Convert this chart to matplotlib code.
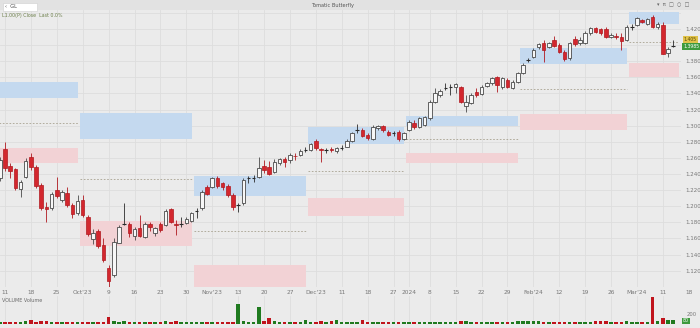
import matplotlib
matplotlib.use("Agg")
import matplotlib.pyplot as plt
from matplotlib.patches import Rectangle
import numpy as np

# daily bars from Fri Sep 8 2023 to Wed Mar 13 2024 (first bar is cut by the left edge)
opens = [1.2351, 1.2711, 1.2500, 1.2462, 1.2210, 1.2367, 1.2608, 1.2484, 1.2264, 1.1991,
         1.1975, 1.2202, 1.2078, 1.2161, 1.2016, 1.1912, 1.2078, 1.1863, 1.1590, 1.1693,
         1.1519, 1.1237, 1.1147, 1.1548, 1.1786, 1.1776, 1.1631, 1.1726, 1.1622, 1.1776,
         1.1672, 1.1776, 1.1767, 1.1962, 1.1776, 1.1782, 1.1789, 1.1821, 1.1941, 1.1975,
         1.2243, 1.2243, 1.2347, 1.2285, 1.2251, 1.2140, 1.2015, 1.2037, 1.2345, 1.2357,
         1.2367, 1.2500, 1.2491, 1.2429, 1.2541, 1.2583, 1.2574, 1.2630, 1.2636, 1.2704,
         1.2698, 1.2814, 1.2713, 1.2698, 1.2713, 1.2690, 1.2729, 1.2739, 1.2814, 1.2946,
         1.2946, 1.2884, 1.2831, 1.2968, 1.2996, 1.2925, 1.2905, 1.2925, 1.2831, 1.2946,
         1.3037, 1.2987, 1.3008, 1.3092, 1.3298, 1.3381, 1.3474, 1.3486, 1.3484, 1.3476,
         1.3244, 1.3285, 1.3422, 1.3393, 1.3493, 1.3526, 1.3601, 1.3484, 1.3567, 1.3464,
         1.3546, 1.3658, 1.3815, 1.3856, 1.3973, 1.4030, 1.3973, 1.4064, 1.4001, 1.3918,
         1.3836, 1.4072, 1.4023, 1.4030, 1.4147, 1.4209, 1.4194, 1.4194, 1.4097, 1.4119,
         1.4104, 1.4064, 1.4225, 1.4250, 1.4306, 1.4262, 1.4345, 1.4221, 1.4250, 1.3902,
         1.3985]
highs = [1.2611, 1.2801, 1.2537, 1.2475, 1.2326, 1.2599, 1.2657, 1.2512, 1.2289, 1.2057,
         1.2177, 1.2363, 1.2202, 1.2243, 1.2037, 1.2140, 1.2140, 1.1891, 1.1714, 1.1718,
         1.1602, 1.1271, 1.1602, 1.1767, 1.2044, 1.1808, 1.1746, 1.1891, 1.1808, 1.1808,
         1.1742, 1.1808, 1.1962, 1.1975, 1.1829, 1.1870, 1.1863, 1.1932, 1.1975, 1.2202,
         1.2264, 1.2367, 1.2375, 1.2305, 1.2276, 1.2165, 1.2044, 1.2347, 1.2375, 1.2388,
         1.2615, 1.2574, 1.2565, 1.2583, 1.2595, 1.2608, 1.2657, 1.2657, 1.2707, 1.2732,
         1.2789, 1.2831, 1.2719, 1.2719, 1.2732, 1.2739, 1.2760, 1.2831, 1.2925, 1.3021,
         1.2968, 1.2906, 1.3008, 1.3008, 1.3008, 1.2946, 1.2934, 1.2946, 1.2925, 1.3071,
         1.3071, 1.3112, 1.3120, 1.3319, 1.3464, 1.3452, 1.3526, 1.3517, 1.3526, 1.3493,
         1.3381, 1.3402, 1.3464, 1.3505, 1.3546, 1.3608, 1.3617, 1.3604, 1.3588, 1.3567,
         1.3670, 1.3774, 1.3836, 1.3961, 1.4030, 1.4064, 1.4042, 1.4113, 1.4023, 1.3939,
         1.4042, 1.4113, 1.4105, 1.4175, 1.4225, 1.4229, 1.4212, 1.4219, 1.4147, 1.4154,
         1.4147, 1.4244, 1.4262, 1.4349, 1.4324, 1.4337, 1.4374, 1.4287, 1.4291, 1.3980,
         1.4064]
lows = [1.2313, 1.2438, 1.2351, 1.2202, 1.2119, 1.2351, 1.2450, 1.2227, 1.1954, 1.1808,
        1.1954, 1.2102, 1.2053, 1.1991, 1.1850, 1.1891, 1.1867, 1.1631, 1.1532, 1.1482,
        1.1312, 1.1001, 1.1122, 1.1540, 1.1767, 1.1622, 1.1581, 1.1622, 1.1602, 1.1697,
        1.1634, 1.1684, 1.1755, 1.1789, 1.1643, 1.1739, 1.1776, 1.1808, 1.1850, 1.1954,
        1.2140, 1.2223, 1.2223, 1.2202, 1.2119, 1.1954, 1.1932, 1.2016, 1.2285, 1.2305,
        1.2347, 1.2409, 1.2388, 1.2409, 1.2512, 1.2491, 1.2541, 1.2574, 1.2624, 1.2677,
        1.2690, 1.2698, 1.2553, 1.2665, 1.2677, 1.2665, 1.2698, 1.2732, 1.2801, 1.2913,
        1.2856, 1.2822, 1.2822, 1.2946, 1.2925, 1.2872, 1.2872, 1.2814, 1.2822, 1.2938,
        1.2955, 1.2971, 1.2996, 1.3071, 1.3278, 1.3360, 1.3443, 1.3381, 1.3402, 1.3285,
        1.3174, 1.3269, 1.3360, 1.3381, 1.3476, 1.3505, 1.3422, 1.3452, 1.3464, 1.3452,
        1.3530, 1.3642, 1.3790, 1.3836, 1.3948, 1.3794, 1.3961, 1.3973, 1.3898, 1.3807,
        1.3815, 1.3989, 1.4001, 1.4014, 1.4126, 1.4150, 1.4126, 1.4085, 1.4085, 1.4072,
        1.3939, 1.4051, 1.4188, 1.4237, 1.4275, 1.4250, 1.4212, 1.4200, 1.3884, 1.3856,
        1.3980]
closes = [1.2574, 1.2475, 1.2441, 1.2227, 1.2305, 1.2565, 1.2484, 1.2251, 1.1975, 1.1966,
          1.2152, 1.2127, 1.2181, 1.2016, 1.1904, 1.2069, 1.1891, 1.1652, 1.1672, 1.1507,
          1.1333, 1.1076, 1.1560, 1.1746, 1.1786, 1.1664, 1.1714, 1.1631, 1.1776, 1.1739,
          1.1726, 1.1705, 1.1945, 1.1808, 1.1764, 1.1782, 1.1838, 1.1913, 1.1941, 1.2181,
          1.2152, 1.2347, 1.2251, 1.2243, 1.2140, 1.1987, 1.2015, 1.2326, 1.2345, 1.2357,
          1.2471, 1.2450, 1.2400, 1.2553, 1.2583, 1.2553, 1.2636, 1.2618, 1.2686, 1.2704,
          1.2773, 1.2719, 1.2701, 1.2698, 1.2701, 1.2719, 1.2729, 1.2814, 1.2906, 1.2946,
          1.2872, 1.2843, 1.2987, 1.2996, 1.2946, 1.2884, 1.2905, 1.2831, 1.2913, 1.3050,
          1.2980, 1.3092, 1.3104, 1.3298, 1.3402, 1.3431, 1.3474, 1.3486, 1.3514, 1.3298,
          1.3298, 1.3381, 1.3381, 1.3484, 1.3526, 1.3588, 1.3505, 1.3588, 1.3484, 1.3546,
          1.3650, 1.3753, 1.3815, 1.3939, 1.4014, 1.3939, 1.4023, 1.3989, 1.3918, 1.3824,
          1.4030, 1.4014, 1.4064, 1.4154, 1.4209, 1.4167, 1.4147, 1.4104, 1.4126, 1.4107,
          1.4051, 1.4225, 1.4225, 1.4333, 1.4293, 1.4320, 1.4229, 1.4262, 1.3890, 1.3952,
          1.3985]
volumes = [40, 40, 40, 40, 45, 67, 80, 45, 60, 53,
           45, 50, 45, 40, 40, 40, 40, 40, 40, 40,
           50, 147, 53, 45, 53, 40, 40, 40, 40, 45,
           40, 50, 67, 45, 60, 40, 40, 40, 40, 40,
           40, 40, 40, 40, 40, 40, 400, 67, 40, 45,
           347, 67, 120, 53, 40, 40, 40, 40, 40, 80,
           40, 40, 53, 40, 53, 80, 40, 40, 40, 45,
           80, 45, 40, 40, 40, 40, 40, 40, 40, 45,
           40, 50, 45, 50, 45, 40, 45, 40, 45, 60,
           67, 45, 50, 45, 40, 40, 45, 40, 40, 40,
           67, 67, 67, 67, 67, 45, 40, 40, 40, 45,
           40, 45, 40, 40, 40, 60, 55, 53, 40, 40,
           45, 60, 40, 45, 40, 45, 533, 53, 120, 80,
           80]

# weekly axis labels (bar number counted from Mon Sep 11)
tick_pos = [0, 5, 10, 15, 20, 25, 30, 35, 40, 45, 50, 55, 60, 65, 70, 75, 78,
            82, 87, 92, 97, 102, 107, 112, 117, 122, 127]
tick_labels = ["11", "18", "25", "Oct'23", "9", "16", "23", "30", "Nov'23", "13", "20",
               "27", "Dec'23", "11", "18", "27", "2024", "8", "15", "22", "29",
               "Feb'24", "12", "19", "26", "Mar'24", "11"]
price_ticks = [1.12, 1.14, 1.16, 1.18, 1.20, 1.22, 1.24, 1.26, 1.28, 1.30,
               1.32, 1.34, 1.36, 1.38, 1.42]
grid_prices = [1.12, 1.14, 1.16, 1.18, 1.20, 1.22, 1.24, 1.26, 1.28, 1.30,
               1.32, 1.34, 1.36, 1.38, 1.40, 1.42, 1.44]

# monthly zones: first bar, last bar, blue band, mid line, red band
zone_first = [-1, 15, 37, 59, 78, 100, 121]
zone_last = [14, 36, 58, 77, 99, 120, 130]
blue_top = [1.3542, 1.3161, 1.2376, 1.2980, 1.3120, 1.3961, 1.4411]
blue_bot = [1.3344, 1.2835, 1.2127, 1.2773, 1.2996, 1.3762, 1.4262]
mid_line = [1.3037, 1.2338, 1.1693, 1.2438, 1.2835, 1.3455, 1.4039]
red_top = [1.2723, 1.1821, 1.1271, 1.2106, 1.2661, 1.3145, 1.3778]
red_bot = [1.2537, 1.1507, 1.0998, 1.1883, 1.2537, 1.2946, 1.3604]

BG = '#ebebeb'
GRID = '#dddddd'
RED = '#d3272e'
GREEN = '#1f7a1f'

fig = plt.figure(figsize=(7, 3.28), dpi=100, facecolor=BG)
ax = fig.add_axes([0, 1 - 287 / 328, 681 / 700, 277 / 328], facecolor=BG)
axv = fig.add_axes([0, 4 / 328, 681 / 700, 28 / 328], facecolor=BG, sharex=ax)

x = np.arange(len(opens)) - 1
o = np.array(opens)
h = np.array(highs)
l = np.array(lows)
c = np.array(closes)

# horizontal grid (the 1.40 line has no label, the price tags sit there)
for gp in grid_prices:
    ax.axhline(gp, color=GRID, lw=0.6, zorder=0)

# zones
for f, la, bt, bb, m, rt, rb in zip(zone_first, zone_last, blue_top, blue_bot,
                                     mid_line, red_top, red_bot):
    x0, x1 = f - 0.5, la + 0.1
    ax.add_patch(Rectangle((x0, bb), x1 - x0, bt - bb, facecolor='#c4d9ef',
                           edgecolor='none', zorder=1))
    ax.add_patch(Rectangle((x0, rb), x1 - x0, rt - rb, facecolor='#f2d2d5',
                           edgecolor='none', zorder=1))
    ax.plot([x0, x1], [m, m], color='#a8a290', lw=0.6, ls=(0, (2, 2)), zorder=1)

# candles
w = 0.68
for xi, oi, hi, li, ci in zip(x, o, h, l, c):
    if ci == oi:
        col = '#2b2b2b'
        ax.vlines(xi, li, hi, color=col, lw=0.6, zorder=3)
        ax.hlines(ci, xi - w / 2, xi + w / 2, color=col, lw=0.8, zorder=3)
    elif ci > oi:
        ax.vlines(xi, li, hi, color='#4a4a4a', lw=0.6, zorder=2)
        ax.add_patch(Rectangle((xi - w / 2, oi), w, ci - oi, facecolor='#f7f7f7',
                               edgecolor='#4a4a4a', lw=0.6, zorder=3))
    else:
        ax.vlines(xi, li, hi, color='#b0181f', lw=0.6, zorder=2)
        ax.add_patch(Rectangle((xi - w / 2, ci), w, oi - ci, facecolor=RED,
                               edgecolor='#b0181f', lw=0.5, zorder=3))

ax.set_xlim(-0.965, 130.5)
ax.set_ylim(1.4436 - 277 / 805.7, 1.4436)
ax.set_yticks(price_ticks)
ax.set_yticklabels(['%.3f' % p for p in price_ticks])
ax.yaxis.tick_right()
ax.tick_params(axis='y', length=0, labelsize=4.0, labelcolor='#777777', pad=3)
ax.set_xticks(tick_pos)
ax.set_xticklabels(tick_labels)
ax.tick_params(axis='x', length=0, labelsize=4.2, labelcolor='#777777', pad=2.5)
ax.text(132, -0.012, "18", transform=ax.get_xaxis_transform(), ha='center',
        va='top', fontsize=4.2, color='#777777', clip_on=False)
ax.grid(True, axis='x', color=GRID, lw=0.6, zorder=0)
ax.set_axisbelow(True)
for s in ax.spines.values():
    s.set_visible(False)

# price tags on the right edge
ax.text(1.004, 1.4068, "1.405", transform=ax.get_yaxis_transform(), fontsize=3.3,
        color='#5a4a00', va='center', ha='left', clip_on=False,
        bbox=dict(boxstyle='square,pad=0.2', fc='#e0c24a', ec='none'))
ax.text(1.003, c[-1], "%.4f" % c[-1], transform=ax.get_yaxis_transform(), fontsize=3.3,
        color='white', va='center', ha='left', clip_on=False,
        bbox=dict(boxstyle='square,pad=0.2', fc='#3d9a3d', ec='none'))

# volume
vcol = [GREEN if ci >= oi else '#c0141c' for oi, ci in zip(o, c)]
axv.bar(x, volumes, width=0.68, color=vcol, zorder=2)
axv.set_ylim(0, 560)
axv.set_yticks([200])
axv.set_yticklabels(["200"])
axv.yaxis.tick_right()
axv.tick_params(axis='y', length=0, labelsize=3.8, labelcolor='#777777', pad=4)
axv.tick_params(axis='x', length=0, labelbottom=False)
axv.grid(True, axis='x', color=GRID, lw=0.6, zorder=0)
axv.set_axisbelow(True)
for s in axv.spines.values():
    s.set_visible(False)
axv.text(0.003, 0.93, "VOLUME Volume", transform=axv.transAxes, fontsize=3.5,
         color='#6a6a6a', va='top')
axv.text(1.003, 60, "%d" % volumes[-1], transform=axv.get_yaxis_transform(),
         fontsize=3.4, color='white', va='center', ha='left', clip_on=False,
         bbox=dict(boxstyle='square,pad=0.2', fc='#3d9a3d', ec='none'))

# toolbar strip at the top
fig.patches.append(Rectangle((0, 1 - 10 / 328), 1, 10 / 328, transform=fig.transFigure,
                             facecolor='#e2e2e2', edgecolor='none', zorder=0))
fig.patches.append(Rectangle((3 / 700, 1 - 10.5 / 328), 34 / 700, 7.5 / 328,
                             transform=fig.transFigure, facecolor='white',
                             edgecolor='#cfcfcf', lw=0.4, zorder=1))
fig.text(5 / 700, 1 - 6.5 / 328, "‹  GL", fontsize=3.6, color='#444444', va='center')
fig.text(333 / 700, 1 - 5 / 328, "Tomatic Butterfly", fontsize=3.6, color='#555555',
         ha='center', va='center')
fig.text(2 / 700, 1 - 15 / 328, "L1.00(P) Close  Last 0.0%", fontsize=3.4,
         color='#6c7f4a', va='center')
fig.text(0.985, 1 - 5 / 328, "\u25be  \u03c0  \u25a1  \u25cb  \u25a1", fontsize=3.6,
         color='#666666', ha='right', va='center')

fig.savefig("out.png", dpi=100, facecolor=BG)
